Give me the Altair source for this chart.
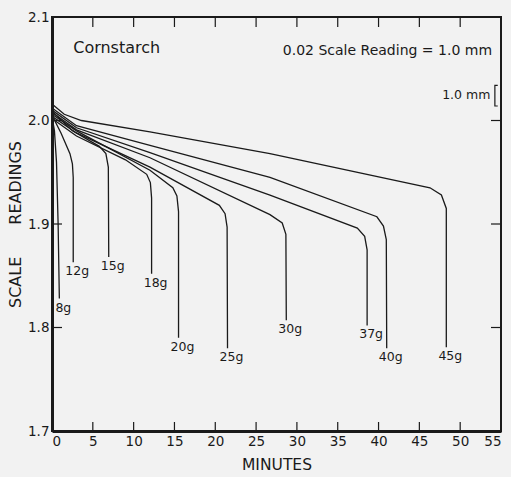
import altair as alt
import pandas as pd

# ---- data ----
series = ["8g", "12g", "15g", "18g", "20g", "25g", "30g", "37g", "40g", "45g"]

t_8g = [0, 0.3, 0.55, 0.75, 0.9]
r_8g = [2.004, 1.99, 1.96, 1.90, 1.828]

t_12g = [0, 1.1, 2.2, 2.5, 2.6, 2.6]
r_12g = [2.005, 1.988, 1.968, 1.958, 1.945, 1.863]

t_15g = [0, 2.5, 5.8, 6.6, 6.9, 6.95]
r_15g = [2.009, 1.99, 1.975, 1.968, 1.955, 1.868]

t_18g = [0, 3, 9, 11.6, 12.05, 12.2, 12.2]
r_18g = [2.002, 1.985, 1.962, 1.948, 1.94, 1.925, 1.852]

t_20g = [0, 3, 12, 14.8, 15.3, 15.5, 15.5]
r_20g = [2.006, 1.99, 1.952, 1.935, 1.927, 1.912, 1.790]

t_25g = [0, 3, 12, 20.5, 21.2, 21.45, 21.5]
r_25g = [2.004, 1.988, 1.955, 1.918, 1.91, 1.897, 1.780]

t_30g = [0, 3, 12, 26.7, 28.2, 28.65, 28.7]
r_30g = [2.008, 1.991, 1.964, 1.909, 1.901, 1.89, 1.807]

t_37g = [0, 3, 12, 26.7, 37.4, 38.3, 38.6, 38.6]
r_37g = [2.010, 1.993, 1.969, 1.928, 1.896, 1.888, 1.875, 1.802]

t_40g = [0, 3, 12, 26.7, 39.8, 40.6, 40.95, 41.0]
r_40g = [2.012, 1.995, 1.976, 1.945, 1.907, 1.898, 1.885, 1.780]

t_45g = [0, 1.5, 3.6, 12, 26.7, 46.3, 47.7, 48.3, 48.3]
r_45g = [2.016, 2.006, 2.0, 1.989, 1.968, 1.935, 1.928, 1.915, 1.781]

x_ticks = [0, 5, 10, 15, 20, 25, 30, 35, 40, 45, 50, 55]
y_ticks = [1.7, 1.8, 1.9, 2.0, 2.1]
inner_x_ticks = [5, 10, 15, 20, 25, 30, 35, 40, 45, 50]
inner_y_ticks = [1.8, 1.9, 2.0]

note_text = ["Cornstarch", "0.02 Scale Reading = 1.0 mm", "1.0 mm"]
note_x = [2.6, 53.9, 53.7]
note_y = [2.070, 2.067, 2.025]
note_size = [16, 14, 12.5]

bracket_x = [54.6, 54.25, 54.25, 54.6]
bracket_y = [2.034, 2.034, 2.014, 2.014]

# ---- build tables ----
all_t = [t_8g, t_12g, t_15g, t_18g, t_20g, t_25g, t_30g, t_37g, t_40g, t_45g]
all_r = [r_8g, r_12g, r_15g, r_18g, r_20g, r_25g, r_30g, r_37g, r_40g, r_45g]
rows = []
ends = []
for name, ts, rs in zip(series, all_t, all_r):
    for i, (t, r) in enumerate(zip(ts, rs)):
        rows.append({"series": name, "minutes": t, "reading": r, "order": i})
    ends.append({"series": name, "minutes": ts[-1], "reading": rs[-1]})
df = pd.DataFrame(rows)
df_end = pd.DataFrame(ends)
df_notes = pd.DataFrame({"text": note_text, "x": note_x, "y": note_y, "size": note_size})
df_bracket = pd.DataFrame({"x": bracket_x, "y": bracket_y, "order": list(range(len(bracket_x)))})

W, H = 449, 414
FONT = "DejaVu Sans"
INK = "#1a1a1a"

xscale = alt.Scale(domain=[0, 55], nice=False, zero=False)
yscale = alt.Scale(domain=[1.7, 2.1], nice=False, zero=False)

x_axis = alt.Axis(values=x_ticks, ticks=False, grid=False, labelFontSize=13.5,
                  labelPadding=3, title="MINUTES", titleFontSize=15.5,
                  titleFontWeight="normal", titlePadding=10, domainWidth=3,
                  domainColor=INK, labelColor=INK, titleColor=INK, labelFont=FONT,
                  titleFont=FONT)
y_axis = alt.Axis(values=y_ticks, format=".1f", ticks=False, grid=False,
                  labelFontSize=13.5, labelPadding=3,
                  title="SCALE\u2003\u2003READINGS", titleFontSize=16,
                  titleFontWeight="normal", titlePadding=4, domainWidth=3,
                  domainColor=INK, labelColor=INK, titleColor=INK, labelFont=FONT,
                  titleFont=FONT)

lines = alt.Chart(df).mark_line(color=INK, strokeWidth=1.3, interpolate="linear").encode(
    x=alt.X("minutes:Q", scale=xscale, axis=x_axis),
    y=alt.Y("reading:Q", scale=yscale, axis=y_axis),
    detail="series:N",
    order="order:Q",
)

labels = alt.Chart(df_end).mark_text(baseline="top", align="center", dx=4, dy=3,
                                     fontSize=12.5, font=FONT, color=INK).encode(
    x=alt.X("minutes:Q", scale=xscale),
    y=alt.Y("reading:Q", scale=yscale),
    text="series:N",
)

notes_left = alt.Chart(df_notes.iloc[[0]]).mark_text(
    align="left", baseline="middle", font=FONT, color=INK).encode(
    x=alt.X("x:Q", scale=xscale), y=alt.Y("y:Q", scale=yscale), text="text:N",
    size=alt.Size("size:Q", scale=None, legend=None))

notes_right = alt.Chart(df_notes.iloc[1:]).mark_text(
    align="right", baseline="middle", font=FONT, color=INK).encode(
    x=alt.X("x:Q", scale=xscale), y=alt.Y("y:Q", scale=yscale), text="text:N",
    size=alt.Size("size:Q", scale=None, legend=None))

bracket = alt.Chart(df_bracket).mark_line(color=INK, strokeWidth=1.2).encode(
    x=alt.X("x:Q", scale=xscale), y=alt.Y("y:Q", scale=yscale), order="order:Q")

tick_df_x = pd.DataFrame({"x": inner_x_ticks})
tick_df_y = pd.DataFrame({"y": inner_y_ticks})
bottom_ticks = alt.Chart(tick_df_x).mark_rule(color=INK, strokeWidth=1.2).encode(
    x=alt.X("x:Q", scale=xscale), y=alt.value(H), y2=alt.value(H - 9))
top_ticks = alt.Chart(tick_df_x).mark_rule(color=INK, strokeWidth=1.2).encode(
    x=alt.X("x:Q", scale=xscale), y=alt.value(0), y2=alt.value(10))
left_ticks = alt.Chart(tick_df_y).mark_rule(color=INK, strokeWidth=1.2).encode(
    y=alt.Y("y:Q", scale=yscale), x=alt.value(0), x2=alt.value(10))
right_ticks = alt.Chart(tick_df_y).mark_rule(color=INK, strokeWidth=1.2).encode(
    y=alt.Y("y:Q", scale=yscale), x=alt.value(W), x2=alt.value(W - 10))

chart = alt.layer(lines, labels, notes_left, notes_right, bracket,
                  bottom_ticks, top_ticks, left_ticks, right_ticks).properties(
    width=W, height=H,
    padding={"left": 52, "top": 17, "right": 10, "bottom": 46},
    autosize="none",
    background="#f2f2f2",
).configure_view(stroke=INK, strokeWidth=2)

chart.save("out.html", embed_options={"renderer": "svg", "actions": False})
